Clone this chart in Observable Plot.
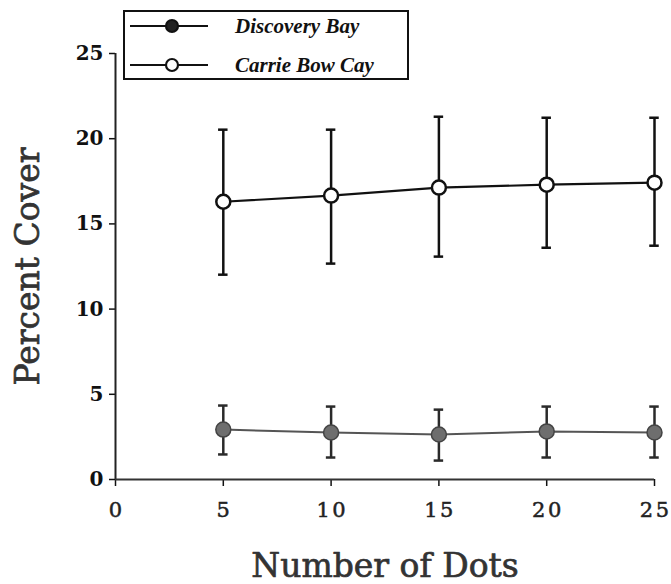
<!DOCTYPE html>
<html>
<head>
<meta charset="utf-8">
<script src="https://cdn.jsdelivr.net/npm/d3@7"></script>
<script src="https://cdn.jsdelivr.net/npm/@observablehq/plot@0.6"></script>
<style>
  html, body { margin: 0; padding: 0; background: #fff; }
  #wrap { position: relative; width: 671px; height: 584px; }
  #legend { position: absolute; left: 123px; top: 10px; width: 286px; height: 70px;
            border: 2px solid #111; box-sizing: border-box; background: #fff; }
  #legend .row { position: absolute; left: 0; height: 20px; display: flex; align-items: center; }
  #legend .lab { font-family: "Liberation Serif", "Times New Roman", serif; font-weight: bold;
                 font-style: italic; font-size: 21px; color: #111; white-space: nowrap; }
</style>
</head>
<body>
<div id="wrap">
  <div id="chart"></div>
  <div id="legend"></div>
</div>
<script>
// Data
const dots = [5, 10, 15, 20, 25];
const seriesNames = ["Discovery Bay", "Carrie Bow Cay"];
const discoveryMean = [2.93, 2.76, 2.64, 2.82, 2.76];
const discoveryHigh = [4.34, 4.28, 4.10, 4.28, 4.28];
const discoveryLow  = [1.47, 1.29, 1.11, 1.29, 1.29];
const carrieMean = [16.3, 16.66, 17.13, 17.3, 17.42];
const carrieHigh = [20.53, 20.53, 21.29, 21.23, 21.23];
const carrieLow  = [12.02, 12.67, 13.08, 13.6, 13.72];
const xTicks = [0, 5, 10, 15, 20, 25];
const yTicks = [0, 5, 10, 15, 20, 25];

const disc = dots.map((x, i) => ({x, m: discoveryMean[i], hi: discoveryHigh[i], lo: discoveryLow[i]}));
const carr = dots.map((x, i) => ({x, m: carrieMean[i], hi: carrieHigh[i], lo: carrieLow[i]}));
const capHalf = 0.22;

const wide = "'DejaVu Serif', serif";

const plot = Plot.plot({
  width: 671,
  height: 584,
  marginLeft: 115,
  marginRight: 17,
  marginTop: 53,
  marginBottom: 105,
  x: {domain: [0, 25]},
  y: {domain: [0, 25]},
  style: {background: "#fff", color: "#111"},
  marks: [
    Plot.axisY(yTicks, {tickSize: 6, tickPadding: 6, label: null, strokeWidth: 1.5}),
    Plot.axisX(xTicks, {tickSize: 7, tickPadding: 16, label: null, strokeWidth: 1.5}),
    Plot.ruleX([0], {y1: 0, y2: 25, strokeWidth: 2, stroke: "#222"}),
    Plot.ruleY([0], {strokeWidth: 2, stroke: "#333"}),
    // Discovery Bay
    Plot.ruleX(disc, {x: "x", y1: "lo", y2: "hi", stroke: "#2a2a2a", strokeWidth: 2.5}),
    Plot.ruleY(disc, {y: "hi", x1: d => d.x - capHalf, x2: d => d.x + capHalf, stroke: "#2a2a2a", strokeWidth: 2.5}),
    Plot.ruleY(disc, {y: "lo", x1: d => d.x - capHalf, x2: d => d.x + capHalf, stroke: "#2a2a2a", strokeWidth: 2.5}),
    Plot.line(disc, {x: "x", y: "m", stroke: "#555", strokeWidth: 2}),
    Plot.dot(disc, {x: "x", y: "m", r: 7.5, fill: "#6e6e6e", stroke: "#444", strokeWidth: 1.5}),
    // Carrie Bow Cay
    Plot.ruleX(carr, {x: "x", y1: "lo", y2: "hi", stroke: "#111", strokeWidth: 2.5}),
    Plot.ruleY(carr, {y: "hi", x1: d => d.x - capHalf, x2: d => d.x + capHalf, stroke: "#111", strokeWidth: 2.5}),
    Plot.ruleY(carr, {y: "lo", x1: d => d.x - capHalf, x2: d => d.x + capHalf, stroke: "#111", strokeWidth: 2.5}),
    Plot.line(carr, {x: "x", y: "m", stroke: "#111", strokeWidth: 2.2}),
    Plot.dot(carr, {x: "x", y: "m", r: 7, fill: "#fff", stroke: "#111", strokeWidth: 2.5}),
    // Axis titles
    Plot.text(["Percent Cover"], {frameAnchor: "left", textAnchor: "middle", text: d => d, rotate: -90, dx: -87, fontSize: 33, fontFamily: wide, fill: "#333", stroke: "#333", strokeWidth: 0.7}),
    Plot.text(["Number of Dots"], {frameAnchor: "bottom", text: d => d, dy: 97, fontSize: 33, fontFamily: wide, fill: "#333", stroke: "#333", strokeWidth: 0.7})
  ]
});
document.getElementById("chart").appendChild(plot);

// tick label styling
const sel = d3.select(plot);
function styleTicks(selector, size, weight, spacing, dx, stroke) {
  const g = sel.selectAll(selector);
  g.attr("font-size", size).attr("font-weight", weight).attr("font-family", wide)
   .style("font-size", size + "px").style("font-weight", weight).style("font-family", wide);
  if (stroke) g.attr("fill", "#222").attr("stroke", "#222").attr("stroke-width", stroke);
  g.selectAll("text")
   .style("font-size", size + "px").style("font-weight", weight).style("font-family", wide)
   .style("letter-spacing", spacing + "px").attr("dx", dx);
}
styleTicks("g[aria-label='y-axis tick label']", 20, "bold", 0, 0, 0);
styleTicks("g[aria-label='x-axis tick label']", 21, "normal", 2.5, 1.2, 0.5);

// Legend (HTML, overlaid)
const legend = d3.select("#legend");
const rows = [
  {name: seriesNames[0], top: 4, fill: "#222", stroke: "#111"},
  {name: seriesNames[1], top: 43, fill: "#fff", stroke: "#111"}
];
rows.forEach(r => {
  const row = legend.append("div").attr("class", "row").style("top", r.top + "px");
  const svg = row.append("svg").attr("width", 86).attr("height", 20).style("margin-left", "5px");
  svg.append("line").attr("x1", 0).attr("x2", 78).attr("y1", 10).attr("y2", 10).attr("stroke", "#111").attr("stroke-width", 2);
  svg.append("circle").attr("cx", 42).attr("cy", 10).attr("r", 6).attr("fill", r.fill).attr("stroke", r.stroke).attr("stroke-width", 2.2);
  row.append("span").attr("class", "lab").style("margin-left", "19px").text(r.name);
});
</script>
</body>
</html>
